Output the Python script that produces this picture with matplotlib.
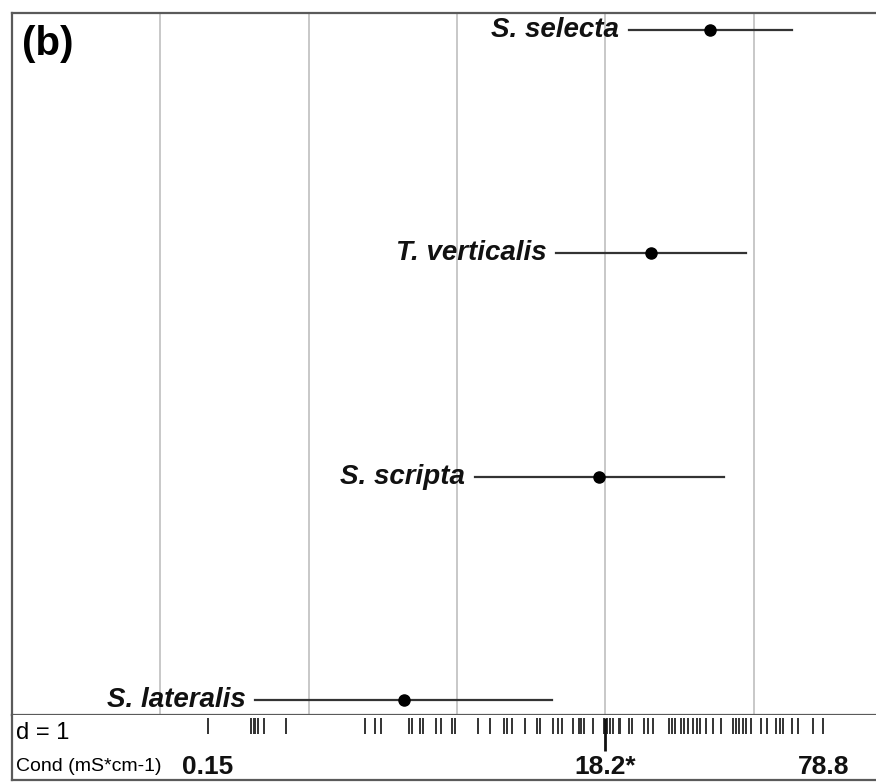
import numpy as np
import matplotlib
matplotlib.use('Agg')
import matplotlib.pyplot as plt

plt.rcParams['font.family'] = ['Liberation Sans', 'DejaVu Sans']

# Species position on the scaled conductivity gradient (mean +/- sd, d units)
species = ['S. lateralis', 'S. scripta', 'T. verticalis', 'S. selecta']
means = [-0.36, 0.96, 1.31, 1.71]
sds = [1.00, 0.84, 0.64, 0.55]

# Scaled conductivity of each sampling site (rug)
sites = [-1.68, -1.39, -1.37, -1.36, -1.34, -1.30, -1.15,
         -0.62, -0.55, -0.51, -0.32, -0.30, -0.25, -0.23, -0.14, -0.11,
         -0.03, -0.01, 0.14, 0.22, 0.32, 0.34, 0.37, 0.46, 0.54, 0.56,
         0.65, 0.68, 0.71, 0.78, 0.82, 0.84, 0.86, 0.92, 0.99, 1.01,
         1.03, 1.05, 1.09, 1.10, 1.16, 1.18, 1.26, 1.29, 1.32, 1.43,
         1.45, 1.47, 1.51, 1.53, 1.56, 1.59, 1.62, 1.64, 1.68, 1.73,
         1.78, 1.86, 1.88, 1.90, 1.93, 1.95, 1.98, 2.05, 2.09, 2.15,
         2.18, 2.20, 2.26, 2.30, 2.40, 2.47]
median_pos = 1.0
cond_labels = ['0.15', '18.2*', '78.8']
grid_d = [-2, -1, 0, 1, 2]

W, H = 876, 783
fig = plt.figure(figsize=(W / 100, H / 100), dpi=100)

xlim = (-3.0, 2.826)
frame_col = '#5a5a5a'

# main panel
ax = fig.add_axes([12 / W, 1 - 715 / H, 1 - 12 / W, (715 - 13) / H])
ax.set_xlim(*xlim)
ax.set_ylim(-0.065, 3.076)
for g in grid_d:
    ax.axvline(g, color='#c4c4c4', lw=1.3, zorder=0)
for i, (name, m, s) in enumerate(zip(species, means, sds)):
    ax.plot([m - s, m + s], [i, i], color='#333333', lw=1.6, zorder=2)
    ax.plot(m, i, 'o', color='black', ms=8, zorder=3)
    ax.annotate(name, (m - s, i), xytext=(-7, 0), textcoords='offset points',
                ha='right', va='center', fontsize=20, fontweight='bold',
                fontstyle='italic', color='#111111')
ax.text(0.011, 0.956, '(b)', transform=ax.transAxes, fontsize=29,
        fontweight='bold', va='center', ha='left')
ax.set_xticks([])
ax.set_yticks([])
ax.spines['right'].set_visible(False)
for sp in ['left', 'top', 'bottom']:
    ax.spines[sp].set_color(frame_col)
    ax.spines[sp].set_linewidth(1.6)

# bottom strip with the rug of sites
bx = fig.add_axes([12 / W, 1 - 780 / H, 1 - 12 / W, (780 - 715) / H])
bx.set_xlim(*xlim)
bx.set_ylim(0, 1)
bx.vlines(sites, 0.71, 0.955, color='#333333', lw=1.4)
bx.vlines(median_pos, 0.45, 0.955, color='#111111', lw=2)
bx.text(0.005, 0.72, 'd = 1', transform=bx.transAxes, fontsize=17,
        va='center', ha='left')
bx.text(0.005, 0.21, 'Cond (mS*cm-1)', transform=bx.transAxes, fontsize=14,
        va='center', ha='left')
for xv, lab in zip([min(sites), median_pos, max(sites)], cond_labels):
    bx.text(xv, 0.2, lab, fontsize=19, fontweight='bold', va='center',
            ha='center', color='#111111')
bx.set_xticks([])
bx.set_yticks([])
bx.spines['right'].set_visible(False)
bx.spines['top'].set_visible(False)
for sp in ['left', 'bottom']:
    bx.spines[sp].set_color(frame_col)
    bx.spines[sp].set_linewidth(1.6)

fig.savefig('out.png', dpi=100, facecolor='white')
